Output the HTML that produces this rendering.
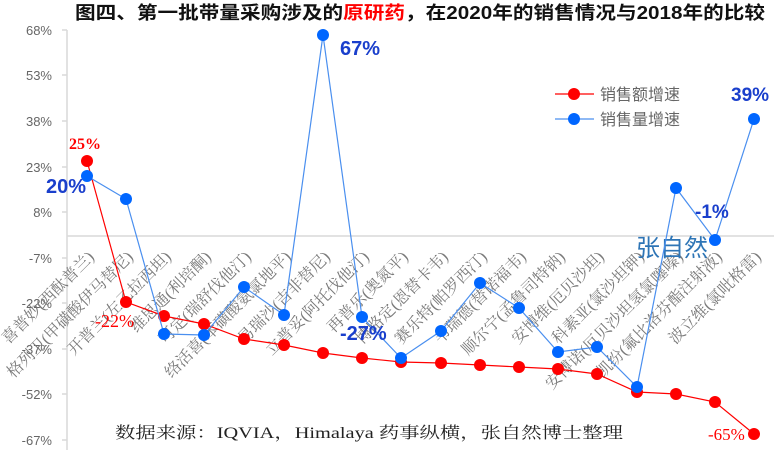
<!DOCTYPE html>
<html><head><meta charset="utf-8">
<style>
html,body{margin:0;padding:0;background:#fff;}
svg{display:block;}
</style></head><body>
<svg width="774" height="450" xmlns="http://www.w3.org/2000/svg" font-family="Liberation Sans, Noto Sans CJK SC, sans-serif">
<text x="420" y="19" text-anchor="middle" font-size="18" font-weight="bold" fill="#111" textLength="690" lengthAdjust="spacingAndGlyphs">图四、第一批带量采购涉及的<tspan fill="#ff0000">原研药</tspan>，在2020年的销售情况与2018年的比较</text>
<g font-size="13" fill="#666" text-anchor="end">
<text x="52" y="35">68%</text>
<text x="52" y="80">53%</text>
<text x="52" y="126">38%</text>
<text x="52" y="172">23%</text>
<text x="52" y="217">8%</text>
<text x="52" y="263">-7%</text>
<text x="52" y="308">-22%</text>
<text x="52" y="354">-37%</text>
<text x="52" y="399">-52%</text>
<text x="52" y="445">-67%</text>
</g>
<g stroke="#d9d9d9" stroke-width="1.5">
<line x1="67" y1="30" x2="67" y2="450"/>
<line x1="62" y1="30" x2="67" y2="30"/>
<line x1="62" y1="75" x2="67" y2="75"/>
<line x1="62" y1="121" x2="67" y2="121"/>
<line x1="62" y1="167" x2="67" y2="167"/>
<line x1="62" y1="212" x2="67" y2="212"/>
<line x1="62" y1="258" x2="67" y2="258"/>
<line x1="62" y1="303" x2="67" y2="303"/>
<line x1="62" y1="349" x2="67" y2="349"/>
<line x1="62" y1="394" x2="67" y2="394"/>
<line x1="62" y1="440" x2="67" y2="440"/>
<line x1="67" y1="236" x2="774" y2="236"/>
</g>
<g font-family="Liberation Serif, Noto Serif CJK SC, serif" font-size="16" fill="#7a7a7a" text-anchor="end">
<text transform="translate(95,258) rotate(-45)">喜普妙(西酞普兰)</text>
<text transform="translate(134,258) rotate(-45)">格列卫(甲磺酸伊马替尼)</text>
<text transform="translate(172,258) rotate(-45)">开普兰(左乙拉西坦)</text>
<text transform="translate(212,258) rotate(-45)">维思通(利培酮)</text>
<text transform="translate(252,258) rotate(-45)">可定(瑞舒伐他汀)</text>
<text transform="translate(292,258) rotate(-45)">络活喜(苯磺酸氨氯地平)</text>
<text transform="translate(331,258) rotate(-45)">易瑞沙(吉非替尼)</text>
<text transform="translate(370,258) rotate(-45)">立普妥(阿托伐他汀)</text>
<text transform="translate(409,258) rotate(-45)">再普乐(奥氮平)</text>
<text transform="translate(449,258) rotate(-45)">博路定(恩替卡韦)</text>
<text transform="translate(488,258) rotate(-45)">赛乐特(帕罗西汀)</text>
<text transform="translate(527,258) rotate(-45)">韦瑞德(替诺福韦)</text>
<text transform="translate(566,258) rotate(-45)">顺尔宁(孟鲁司特钠)</text>
<text transform="translate(605,258) rotate(-45)">安博维(厄贝沙坦)</text>
<text transform="translate(645,258) rotate(-45)">科素亚(氯沙坦钾)</text>
<text transform="translate(684,258) rotate(-45)">安博诺(厄贝沙坦氢氯噻嗪)</text>
<text transform="translate(723,258) rotate(-45)">凯纷(氟比洛芬酯注射液)</text>
<text transform="translate(762,258) rotate(-45)">波立维(氯吡格雷)</text>
</g>
<text x="672" y="256" text-anchor="middle" font-size="24" fill="#2e75b6">张自然</text>
<polyline fill="none" stroke="#ff0000" stroke-width="1.2" points="87,161 126,302 164,316 204,324 244,339 284,345 323,353 362,358 401,362 441,363 480,365 519,367 558,369 597,374 637,392 676,394 715,402 754,434"/>
<g fill="#ff0000">
<circle cx="87" cy="161" r="6"/><circle cx="126" cy="302" r="6"/><circle cx="164" cy="316" r="6"/><circle cx="204" cy="324" r="6"/><circle cx="244" cy="339" r="6"/><circle cx="284" cy="345" r="6"/><circle cx="323" cy="353" r="6"/><circle cx="362" cy="358" r="6"/><circle cx="401" cy="362" r="6"/><circle cx="441" cy="363" r="6"/><circle cx="480" cy="365" r="6"/><circle cx="519" cy="367" r="6"/><circle cx="558" cy="369" r="6"/><circle cx="597" cy="374" r="6"/><circle cx="637" cy="392" r="6"/><circle cx="676" cy="394" r="6"/><circle cx="715" cy="402" r="6"/><circle cx="754" cy="434" r="6"/>
</g>
<polyline fill="none" stroke="#4a8fef" stroke-width="1.2" points="87,176 126,199 164,334 204,335 244,287 284,315 323,35 362,317 401,358 441,331 480,283 519,308 558,352 597,347 637,387 676,188 715,240 754,119"/>
<g fill="#0066ff">
<circle cx="87" cy="176" r="6"/><circle cx="126" cy="199" r="6"/><circle cx="164" cy="334" r="6"/><circle cx="204" cy="335" r="6"/><circle cx="244" cy="287" r="6"/><circle cx="284" cy="315" r="6"/><circle cx="323" cy="35" r="6"/><circle cx="362" cy="317" r="6"/><circle cx="401" cy="358" r="6"/><circle cx="441" cy="331" r="6"/><circle cx="480" cy="283" r="6"/><circle cx="519" cy="308" r="6"/><circle cx="558" cy="352" r="6"/><circle cx="597" cy="347" r="6"/><circle cx="637" cy="387" r="6"/><circle cx="676" cy="188" r="6"/><circle cx="715" cy="240" r="6"/><circle cx="754" cy="119" r="6"/>
</g>
<g font-family="Liberation Serif, serif" fill="#ff0000">
<text x="85" y="149" text-anchor="middle" font-size="16" font-weight="bold">25%</text>
<text x="95" y="327" font-size="18">-22%</text>
<text x="708" y="440" font-size="17">-65%</text>
</g>
<g font-weight="bold" fill="#1a3fcc">
<text x="46" y="193" font-size="20">20%</text>
<text x="340" y="55" font-size="20">67%</text>
<text x="340" y="340" font-size="20">-27%</text>
<text x="695" y="218" font-size="19">-1%</text>
<text x="731" y="101" font-size="19">39%</text>
</g>
<g font-size="16" fill="#666">
<line x1="555" y1="94" x2="594" y2="94" stroke="#ff0000" stroke-width="1.2"/>
<circle cx="574" cy="94" r="6" fill="#ff0000"/>
<text x="600" y="100">销售额增速</text>
<line x1="555" y1="119" x2="594" y2="119" stroke="#4a8fef" stroke-width="1.2"/>
<circle cx="574" cy="119" r="6" fill="#0066ff"/>
<text x="600" y="125">销售量增速</text>
</g>
<text x="115" y="438" font-family="Liberation Serif, Noto Serif CJK SC, serif" font-size="16" fill="#222" textLength="508" lengthAdjust="spacingAndGlyphs">数据来源：IQVIA，Himalaya 药事纵横，张自然博士整理</text>
</svg>
</body></html>
